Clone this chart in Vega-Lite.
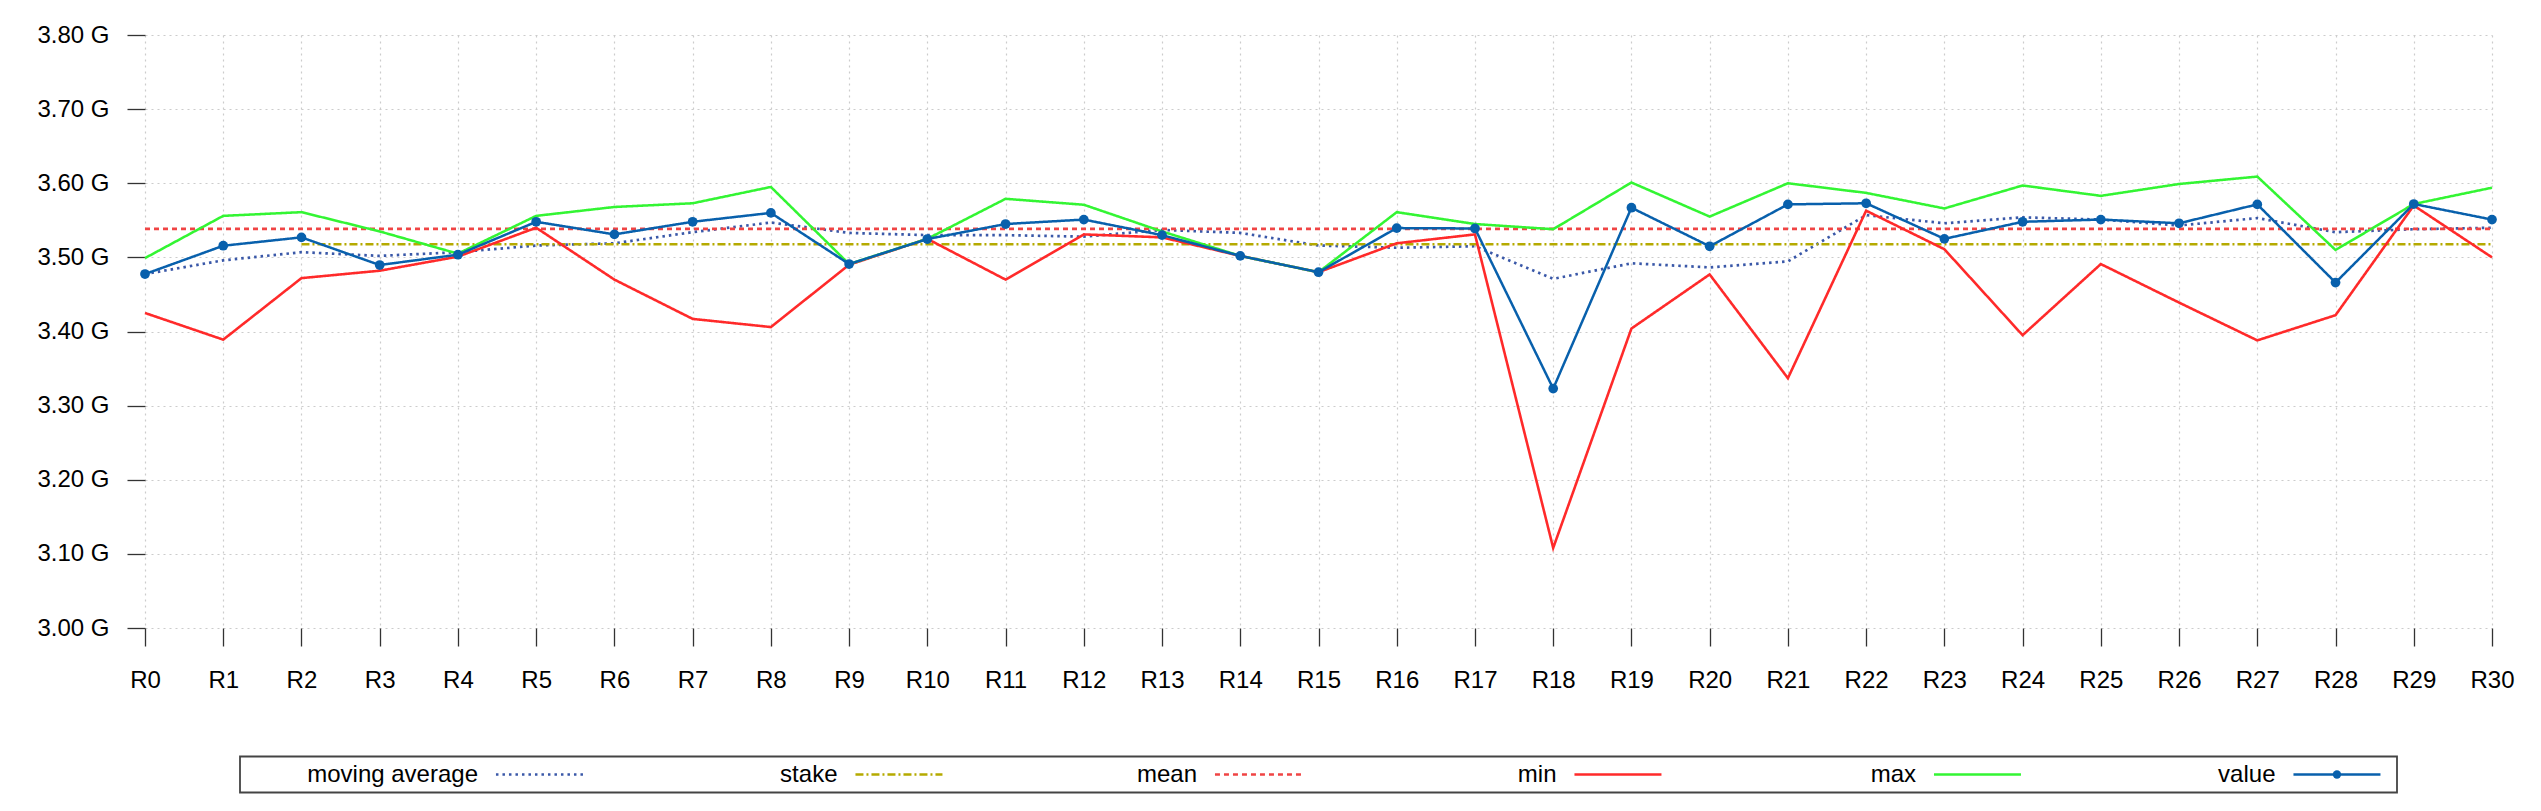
{
  "$schema": "https://vega.github.io/schema/vega-lite/v6.json",
  "autosize": {"type": "pad"},
  "padding": {"left": 36, "top": 23, "right": 10, "bottom": 18},
  "background": "white",
  "spacing": 128.5,
  "center": true,
  "bounds": "flush",
  "config": {
    "view": {"stroke": null},
    "font": "Liberation Sans",
    "axis": {
      "domain": false,
      "grid": true,
      "gridDash": [2, 4],
      "gridColor": "#cccccc",
      "gridWidth": 1.2,
      "tickSize": 18,
      "tickColor": "#333333",
      "tickWidth": 1.3,
      "labelFont": "Liberation Sans",
      "labelFontSize": 24,
      "labelColor": "black",
      "title": null
    }
  },
  "vconcat": [
    {
      "width": 2347,
      "height": 593,
      "data": {
        "values": [
          {"run": "R0", "value": 3.4775, "min": 3.425, "max": 3.499, "moving average": 3.4775, "stake": null, "mean": 3.5385},
          {"run": "R1", "value": 3.5157, "min": 3.389, "max": 3.556, "moving average": 3.496, "stake": null, "mean": 3.5385},
          {"run": "R2", "value": 3.527, "min": 3.472, "max": 3.561, "moving average": 3.507, "stake": 3.5177, "mean": 3.5385},
          {"run": "R3", "value": 3.4897, "min": 3.482, "max": 3.535, "moving average": 3.502, "stake": 3.5177, "mean": 3.5385},
          {"run": "R4", "value": 3.5036, "min": 3.501, "max": 3.505, "moving average": 3.507, "stake": 3.5177, "mean": 3.5385},
          {"run": "R5", "value": 3.548, "min": 3.54, "max": 3.556, "moving average": 3.516, "stake": 3.5177, "mean": 3.5385},
          {"run": "R6", "value": 3.531, "min": 3.47, "max": 3.568, "moving average": 3.519, "stake": 3.5177, "mean": 3.5385},
          {"run": "R7", "value": 3.548, "min": 3.417, "max": 3.573, "moving average": 3.534, "stake": 3.5177, "mean": 3.5385},
          {"run": "R8", "value": 3.56, "min": 3.406, "max": 3.595, "moving average": 3.547, "stake": 3.5177, "mean": 3.5385},
          {"run": "R9", "value": 3.491, "min": 3.49, "max": 3.491, "moving average": 3.533, "stake": 3.5177, "mean": 3.5385},
          {"run": "R10", "value": 3.5247, "min": 3.525, "max": 3.525, "moving average": 3.53, "stake": 3.5177, "mean": 3.5385},
          {"run": "R11", "value": 3.545, "min": 3.47, "max": 3.579, "moving average": 3.53, "stake": 3.5177, "mean": 3.5385},
          {"run": "R12", "value": 3.551, "min": 3.531, "max": 3.571, "moving average": 3.528, "stake": 3.5177, "mean": 3.5385},
          {"run": "R13", "value": 3.53, "min": 3.527, "max": 3.535, "moving average": 3.537, "stake": 3.5177, "mean": 3.5385},
          {"run": "R14", "value": 3.502, "min": 3.502, "max": 3.502, "moving average": 3.533, "stake": 3.5177, "mean": 3.5385},
          {"run": "R15", "value": 3.48, "min": 3.48, "max": 3.48, "moving average": 3.516, "stake": 3.5177, "mean": 3.5385},
          {"run": "R16", "value": 3.5395, "min": 3.519, "max": 3.561, "moving average": 3.513, "stake": 3.5177, "mean": 3.5385},
          {"run": "R17", "value": 3.539, "min": 3.531, "max": 3.545, "moving average": 3.515, "stake": 3.5177, "mean": 3.5385},
          {"run": "R18", "value": 3.323, "min": 3.108, "max": 3.538, "moving average": 3.471, "stake": 3.5177, "mean": 3.5385},
          {"run": "R19", "value": 3.567, "min": 3.404, "max": 3.601, "moving average": 3.492, "stake": 3.5177, "mean": 3.5385},
          {"run": "R20", "value": 3.515, "min": 3.477, "max": 3.555, "moving average": 3.4865, "stake": 3.5177, "mean": 3.5385},
          {"run": "R21", "value": 3.5715, "min": 3.337, "max": 3.6, "moving average": 3.4946, "stake": 3.5177, "mean": 3.5385},
          {"run": "R22", "value": 3.573, "min": 3.563, "max": 3.587, "moving average": 3.557, "stake": 3.5177, "mean": 3.5385},
          {"run": "R23", "value": 3.525, "min": 3.511, "max": 3.566, "moving average": 3.546, "stake": 3.5177, "mean": 3.5385},
          {"run": "R24", "value": 3.548, "min": 3.395, "max": 3.597, "moving average": 3.554, "stake": 3.5177, "mean": 3.5385},
          {"run": "R25", "value": 3.551, "min": 3.491, "max": 3.583, "moving average": 3.551, "stake": 3.5177, "mean": 3.5385},
          {"run": "R26", "value": 3.546, "min": 3.439, "max": 3.599, "moving average": 3.543, "stake": 3.5177, "mean": 3.5385},
          {"run": "R27", "value": 3.5715, "min": 3.388, "max": 3.609, "moving average": 3.553, "stake": 3.5177, "mean": 3.5385},
          {"run": "R28", "value": 3.466, "min": 3.422, "max": 3.51, "moving average": 3.534, "stake": 3.5177, "mean": 3.5385},
          {"run": "R29", "value": 3.572, "min": 3.57, "max": 3.572, "moving average": 3.538, "stake": 3.5177, "mean": 3.5385},
          {"run": "R30", "value": 3.551, "min": 3.5, "max": 3.594, "moving average": 3.54, "stake": 3.5177, "mean": 3.5385}
        ]
      },
      "encoding": {
        "x": {
          "field": "run",
          "type": "nominal",
          "sort": null,
          "scale": {"type": "point", "padding": 0},
          "axis": {"labelAngle": 0, "labelPadding": 22}
        }
      },
      "layer": [
        {
          "transform": [
            {"fold": ["moving average", "stake", "mean", "min", "max", "value"], "as": ["series", "v"]}
          ],
          "mark": {"type": "line", "strokeCap": "butt"},
          "encoding": {
            "y": {
              "field": "v",
              "type": "quantitative",
              "scale": {"domain": [3.0, 3.8], "nice": false, "zero": false},
              "axis": {
                "values": [3.0, 3.1, 3.2, 3.3, 3.4, 3.5, 3.6, 3.7, 3.8],
                "labelExpr": "format(datum.value, '.2f') + ' G'",
                "labelPadding": 18
              }
            },
            "color": {
              "field": "series",
              "type": "nominal",
              "scale": {
                "domain": ["moving average", "stake", "mean", "min", "max", "value"],
                "range": ["#3a58a8", "#b5aa00", "#f04444", "#ff2a2a", "#33f533", "#0860ac"]
              },
              "legend": null
            },
            "strokeDash": {
              "field": "series",
              "type": "nominal",
              "scale": {
                "domain": ["moving average", "stake", "mean", "min", "max", "value"],
                "range": [[2.5, 4], [8, 3, 2, 3], [5, 4], [1, 0], [1, 0], [1, 0]]
              },
              "legend": null
            },
            "strokeWidth": {
              "field": "series",
              "type": "ordinal",
              "scale": {
                "domain": ["moving average", "stake", "mean", "min", "max", "value"],
                "range": [2.7, 2.5, 2.5, 2.2, 2.2, 5]
              },
              "legend": null
            }
          }
        },
        {
          "mark": {"type": "point", "filled": true, "opacity": 1, "size": 95, "color": "#0860ac"},
          "encoding": {
            "y": {"field": "value", "type": "quantitative"}
          }
        }
      ]
    },
    {
      "width": 2157,
      "height": 36,
      "view": {"stroke": "#444444", "strokeWidth": 1.8},
      "data": {
        "values": [
          {"name": "moving average"},
          {"name": "stake"},
          {"name": "mean"},
          {"name": "min"},
          {"name": "max"},
          {"name": "value"}
        ]
      },
      "layer": [
        {
          "mark": {"type": "text", "align": "right", "baseline": "middle", "fontSize": 24, "font": "Liberation Sans", "color": "black"},
          "encoding": {
            "x": {"field": "name", "type": "nominal", "sort": null, "bandPosition": 0.662, "scale": {"type": "band", "paddingInner": 0, "paddingOuter": 0}, "axis": null},
            "text": {"field": "name"}
          }
        },
        {
          "mark": {"type": "point", "shape": "stroke", "size": 7569, "filled": false, "opacity": 1},
          "encoding": {
            "x": {"field": "name", "type": "nominal", "sort": null, "bandPosition": 0.833, "axis": null},
            "color": {"field": "name", "type": "nominal", "legend": null},
            "strokeDash": {"field": "name", "type": "nominal", "legend": null},
            "strokeWidth": {"field": "name", "type": "ordinal", "legend": null}
          }
        },
        {
          "transform": [{"filter": "datum.name === 'value'"}],
          "mark": {"type": "point", "filled": true, "size": 70, "opacity": 1, "color": "#0860ac"},
          "encoding": {
            "x": {"field": "name", "type": "nominal", "sort": null, "bandPosition": 0.833, "axis": null}
          }
        }
      ]
    }
  ]
}
